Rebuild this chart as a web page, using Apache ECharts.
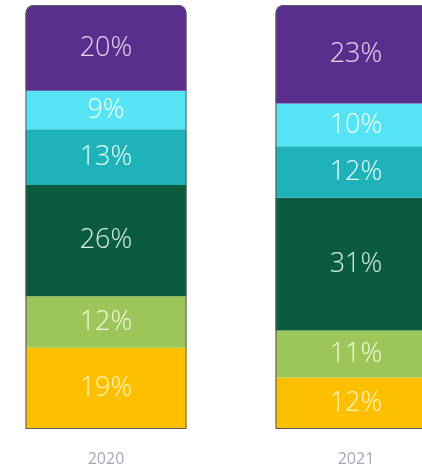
<!DOCTYPE html>
<html>
<head>
<meta charset="utf-8">
<script src="https://cdn.jsdelivr.net/npm/echarts@6/dist/echarts.min.js"></script>
<style>
  html, body { margin: 0; padding: 0; background: #fff; overflow: hidden; }
  body { width: 422px; height: 473px; position: relative; }
  /* chart is wider than the window, the second bar runs off the right edge */
  #chart { position: absolute; left: -19px; top: 0; width: 500px; height: 473px; }
</style>
</head>
<body>
<div id="chart"></div>
<script>
const years = ['2020', '2021'];
// segments, bottom to top (values as labelled, %)
const yellowShare = [19, 12];
const lightGreenShare = [12, 11];
const darkGreenShare = [26, 31];
const tealShare = [13, 12];
const cyanShare = [9, 10];
const purpleShare = [20, 23];

const segments = [
  { name: 'yellow', data: yellowShare, color: '#fcc000', text: 'rgba(255,248,200,0.95)' },
  { name: 'lightGreen', data: lightGreenShare, color: '#9cc55a', text: 'rgba(245,252,230,0.95)' },
  { name: 'darkGreen', data: darkGreenShare, color: '#0b5b3f', text: 'rgba(225,245,235,0.95)' },
  { name: 'teal', data: tealShare, color: '#1fb3b9', text: 'rgba(240,255,255,0.95)' },
  { name: 'cyan', data: cyanShare, color: '#55e4f3', text: 'rgba(255,255,255,0.95)' },
  { name: 'purple', data: purpleShare, color: '#5a2e8c', text: 'rgba(240,222,245,0.95)' }
];

const totals = years.map((y, i) => segments.reduce((s, g) => s + g.data[i], 0));

const chart = echarts.init(document.getElementById('chart'));

const series = segments.map((g, idx) => ({
  name: g.name,
  type: 'bar',
  stack: 'all',
  barWidth: 161,
  barGap: '-100%',
  data: g.data,
  itemStyle: {
    color: g.color,
    borderRadius: idx === segments.length - 1 ? [8, 8, 0, 0] : 0
  },
  label: {
    show: true,
    position: 'inside',
    formatter: '{c}%',
    color: g.text,
    fontFamily: 'Open Sans',
    fontWeight: 300,
    fontSize: 27
  },
  silent: true
}));

// thin outline around each full bar
series.push({
  name: 'outline',
  type: 'bar',
  barWidth: 161,
  barGap: '-100%',
  data: totals,
  z: 5,
  itemStyle: {
    color: 'transparent',
    borderColor: '#5c5c5c',
    borderWidth: 1,
    borderRadius: [8, 8, 0, 0]
  },
  silent: true
});

const option = {
  animation: false,
  grid: { left: 0, right: 0, top: 5, bottom: 44 },
  xAxis: {
    type: 'category',
    data: years,
    axisLine: { show: false },
    axisTick: { show: false },
    axisLabel: {
      margin: 22,
      color: '#aba4bd',
      fontFamily: 'Open Sans',
      fontSize: 16
    }
  },
  yAxis: {
    type: 'value',
    min: 0,
    max: 99,
    show: false,
    splitLine: { show: false }
  },
  series: series
};

chart.setOption(option);
</script>
</body>
</html>
